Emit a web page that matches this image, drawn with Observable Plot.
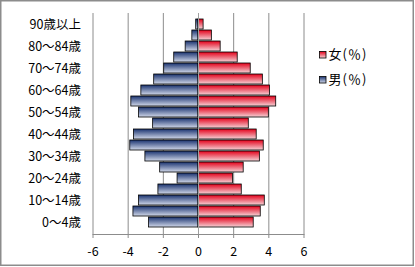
<!DOCTYPE html>
<html><head><meta charset="utf-8">
<script src="https://cdn.jsdelivr.net/npm/d3@7"></script>
<script src="https://cdn.jsdelivr.net/npm/@observablehq/plot@0.6"></script>
<style>body{margin:0;background:#fff}#c{width:415px;height:267px}</style>
</head><body><div id="c"></div>
<script>
const ages = ["0〜4歳","5〜9歳","10〜14歳","15〜19歳","20〜24歳","25〜29歳","30〜34歳","35〜39歳","40〜44歳","45〜49歳","50〜54歳","55〜59歳","60〜64歳","65〜69歳","70〜74歳","75〜79歳","80〜84歳","85〜89歳","90歳以上"];
const male = [-2.81,-3.70,-3.38,-2.28,-1.19,-2.18,-3.02,-3.88,-3.67,-2.58,-3.38,-3.82,-3.25,-2.52,-1.95,-1.38,-0.73,-0.35,-0.13];
const female = [3.14,3.54,3.77,2.46,1.96,2.57,3.49,3.71,3.31,2.86,4.00,4.42,4.06,3.66,2.97,2.23,1.26,0.76,0.29];
const xTicks = [-6,-4,-2,0,2,4,6];
const shownAges = ["0〜4歳","10〜14歳","20〜24歳","30〜34歳","40〜44歳","50〜54歳","60〜64歳","70〜74歳","80〜84歳","90歳以上"];
const legendLabels = ["女(％)","男(％)"];

const maleRows = ages.map((a,i)=>({age:a,v:male[i]}));
const femaleRows = ages.map((a,i)=>({age:a,v:female[i]}));

const plot = Plot.plot({
  width:415, height:267,
  marginLeft:92.5, marginRight:111.5, marginTop:13, marginBottom:33,
  style:{fontFamily:"'Noto Sans CJK JP', sans-serif", fontSize:"12.5px", color:"#000", background:"#fff"},
  x:{domain:[-6,6]},
  y:{domain:ages.slice().reverse(), padding:0.05},
  marks:[
    Plot.ruleX(xTicks,{stroke:"#8c8c8c", strokeWidth:1}),
    Plot.barX(maleRows,{y:"age", x1:0, x2:"v", fill:"url(#gBlue)", stroke:"#000", strokeWidth:0.8}),
    Plot.barX(femaleRows,{y:"age", x1:0, x2:"v", fill:"url(#gRed)", stroke:"#000", strokeWidth:0.8}),
    Plot.ruleX([0],{stroke:"#a0a0a0", strokeWidth:1}),
    Plot.frame({anchor:"bottom", stroke:"#8c8c8c"}),
    Plot.axisX({ticks:xTicks, tickSize:4, tickPadding:9, stroke:"#8c8c8c", fill:"#000", label:null, tickFormat:d=>String(d)}),
    Plot.axisY({tickSize:0, tickPadding:12, fill:"#000", label:null, tickFormat:d=>shownAges.includes(d)?d:""})
  ]
});

const svg = d3.select(plot);
const defs = svg.insert("defs",":first-child");
const gb = defs.append("linearGradient").attr("id","gBlue").attr("x1",0).attr("y1",0).attr("x2",0).attr("y2",1);
gb.append("stop").attr("offset","0%").attr("stop-color","#1a3370");
gb.append("stop").attr("offset","100%").attr("stop-color","#d2d9ea");
const gr = defs.append("linearGradient").attr("id","gRed").attr("x1",0).attr("y1",0).attr("x2",0).attr("y2",1);
gr.append("stop").attr("offset","0%").attr("stop-color","#e4001a");
gr.append("stop").attr("offset","100%").attr("stop-color","#f5d4d8");

// legend
const lg = svg.append("g").attr("font-family","'Noto Sans CJK JP', sans-serif").attr("font-size","13px").attr("text-anchor","start");
[["url(#gRed)",legendLabels[0],54.5],["url(#gBlue)",legendLabels[1],79.5]].forEach(([f,t,y])=>{
  lg.append("rect").attr("x",319.5).attr("y",y-3).attr("width",6.5).attr("height",6.5).attr("fill",f).attr("stroke","#000").attr("stroke-width",0.8);
  lg.append("text").attr("x",328.5).attr("y",y).attr("dy","0.35em").attr("text-anchor","start").attr("letter-spacing","1px").attr("fill","#000").text(t);
});
// chart border
svg.append("rect").attr("x",0.75).attr("y",0.75).attr("width",412.5).attr("height",264.5).attr("fill","none").attr("stroke","#8c8c8c").attr("stroke-width",1.5);

document.getElementById("c").appendChild(plot);
</script>
</body></html>
